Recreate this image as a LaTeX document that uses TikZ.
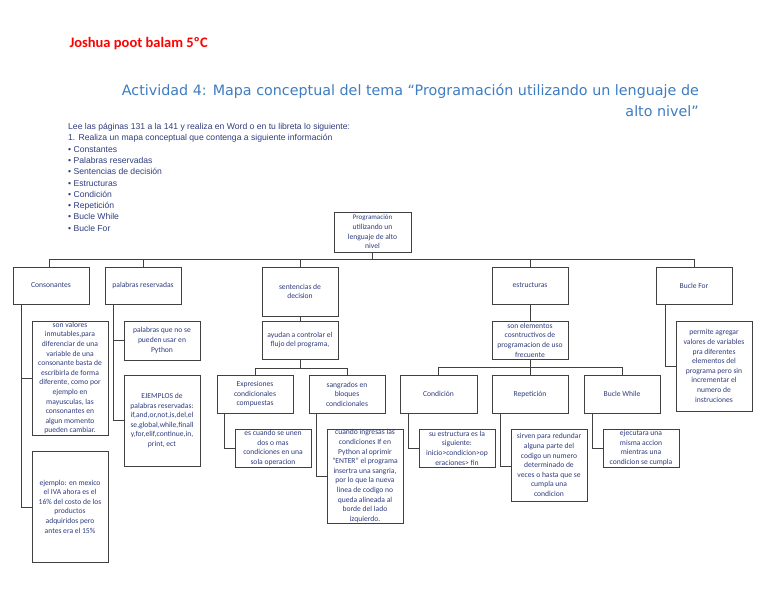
\documentclass[tikz,border=0pt]{standalone}
\usepackage{fontspec}
\setmainfont{Carlito}
\newfontfamily\titlefont{DejaVu Sans}
\newfontfamily\instfont{Liberation Sans}
\definecolor{txt}{HTML}{2F3C7E}
\definecolor{ttl}{HTML}{3D7CC0}
\begin{document}
\begin{tikzpicture}[x=1pt,y=-1pt,
  bx/.style={draw=black!75,line width=1pt,fill=white,text=txt,font=\fontsize{7.6}{9.6}\selectfont,align=center,inner sep=0pt},
  ln/.style={draw=black!75,line width=1pt}]
\useasboundingbox (0,0) rectangle (768,594);
\node[anchor=west,text=red,font=\bfseries\fontsize{14.5}{16}\selectfont] (name) at (66,44) {Joshua poot balam 5ºC};
\node[anchor=north east,text=ttl,font=\titlefont\fontsize{14.3}{21}\selectfont,align=right,inner sep=0] (title) at (699,84) {Actividad 4: Mapa conceptual del tema “Programación utilizando un lenguaje de\\alto nivel”};
\node[anchor=north west,text=txt,font=\instfont\fontsize{8.6}{11.3}\selectfont,align=left,inner sep=0] (inst) at (68,123) {Lee las páginas 131 a la 141 y realiza en Word o en tu libreta lo siguiente:\\1. Realiza un mapa conceptual que contenga a siguiente información\\• Constantes\\• Palabras reservadas\\• Sentencias de decisión\\• Estructuras\\• Condición\\• Repetición\\• Bucle While\\• Bucle For};
\newcommand{\bxn}[6]{\node[bx,minimum width=#4-#2,minimum height=#5-#3] (#1) at ({(#2+#4)/2},{(#3+#5)/2}) {#6};}
% lines
\draw[ln] (372,252) -- (372,259);
\draw[ln] (49,259) -- (694,259);
\foreach \x in {49,143,300,530,694} \draw[ln] (\x,259) -- (\x,267);
\bxn{root}{334}{212}{411}{252}{\fontsize{7}{9.5}\selectfont Programación\\utilizando un\\lenguaje de alto\\nivel}
\bxn{cons}{13}{267}{89}{304}{Consonantes}
\bxn{pal}{105}{267}{181}{304}{palabras reservadas}
\bxn{sen}{262}{267}{338}{316}{sentencias de\\decision}
\bxn{est}{492}{267}{568}{304}{estructuras}
\bxn{for}{656}{267}{732}{304}{Bucle For}
% consonantes
\draw[ln] (21,304) -- (21,507) -- (32,507);
\draw[ln] (21,378) -- (32,378);
\bxn{c1}{32}{321}{108}{435}{son valores\\inmutables,para\\diferenciar de una\\variable de una\\consonante basta de\\escribirla de forma\\diferente, como por\\ejemplo en\\mayusculas, las\\consonantes en\\algun momento\\pueden cambiar.}
\bxn{c2}{32}{451}{108}{562}{ejemplo: en mexico\\el IVA ahora es el\\16\% del costo de los\\productos\\adquiridos pero\\antes era el 15\%}
% palabras
\draw[ln] (113,304) -- (113,420) -- (124,420);
\draw[ln] (113,340) -- (124,340);
\bxn{p1}{124}{321}{200}{360}{palabras que no se\\pueden usar en\\Python}
\bxn{p2}{124}{375}{200}{466}{EJEMPLOS de\\palabras reservadas:\\if,and,or,not,is,del,el\\se,global,while,finall\\y,for,elif,continue,in,\\print, ect}
% sentencias
\draw[ln] (300,316) -- (300,321);
\bxn{s1}{262}{321}{338}{359}{ayudan a controlar el\\flujo del programa,}
\draw[ln] (300,359) -- (300,368);
\draw[ln] (255,375) -- (255,368) -- (347,368) -- (347,375);
\bxn{s2}{217}{375}{293}{413}{Expresiones\\condicionales\\compuestas}
\bxn{s3}{309}{375}{385}{413}{sangrados en\\bloques\\condicionales}
\draw[ln] (224,413) -- (224,448) -- (235,448);
\bxn{s4}{235}{429}{311}{467}{es cuando se unen\\dos o mas\\condiciones en una\\sola operacion}
\draw[ln] (316,413) -- (316,476) -- (327,476);
\bxn{s5}{327}{429}{403}{523}{cuando ingresas las\\condiciones If en\\Python al oprimir\\"ENTER" el programa\\insertra una sangria,\\por lo que la nueva\\linea de codigo no\\queda alineada al\\borde del lado\\izquierdo.}
% estructuras
\draw[ln] (530,304) -- (530,321);
\bxn{e1}{492}{321}{568}{359}{son elementos\\cosntructivos de\\programacion de uso\\frecuente}
\draw[ln] (530,359) -- (530,375);
\draw[ln] (438,375) -- (438,367) -- (622,367) -- (622,375);
\bxn{e2}{400}{375}{477}{413}{Condición}
\bxn{e3}{492}{375}{568}{413}{Repetición}
\bxn{e4}{584}{375}{660}{413}{Bucle While}
\draw[ln] (408,413) -- (408,448) -- (419,448);
\bxn{e5}{419}{429}{495}{467}{su estructura es la\\siguiente:\\inicio>condicion>op\\eraciones> fin}
\draw[ln] (500,413) -- (500,466) -- (511,466);
\bxn{e6}{511}{429}{587}{501}{sirven para redundar\\alguna parte del\\codigo un numero\\determinado de\\veces o hasta que se\\cumpla una\\condicion}
\draw[ln] (592,413) -- (592,448) -- (603,448);
\bxn{e7}{603}{429}{679}{467}{ejecutara una\\misma accion\\mientras una\\condicion se cumpla}
% bucle for
\draw[ln] (665,304) -- (665,366) -- (676,366);
\bxn{f1}{676}{321}{752}{411}{permite agregar\\valores de variables\\pra diferentes\\elementos del\\programa pero sin\\incrementar el\\numero de\\instruciones}
\end{tikzpicture}
\end{document}
